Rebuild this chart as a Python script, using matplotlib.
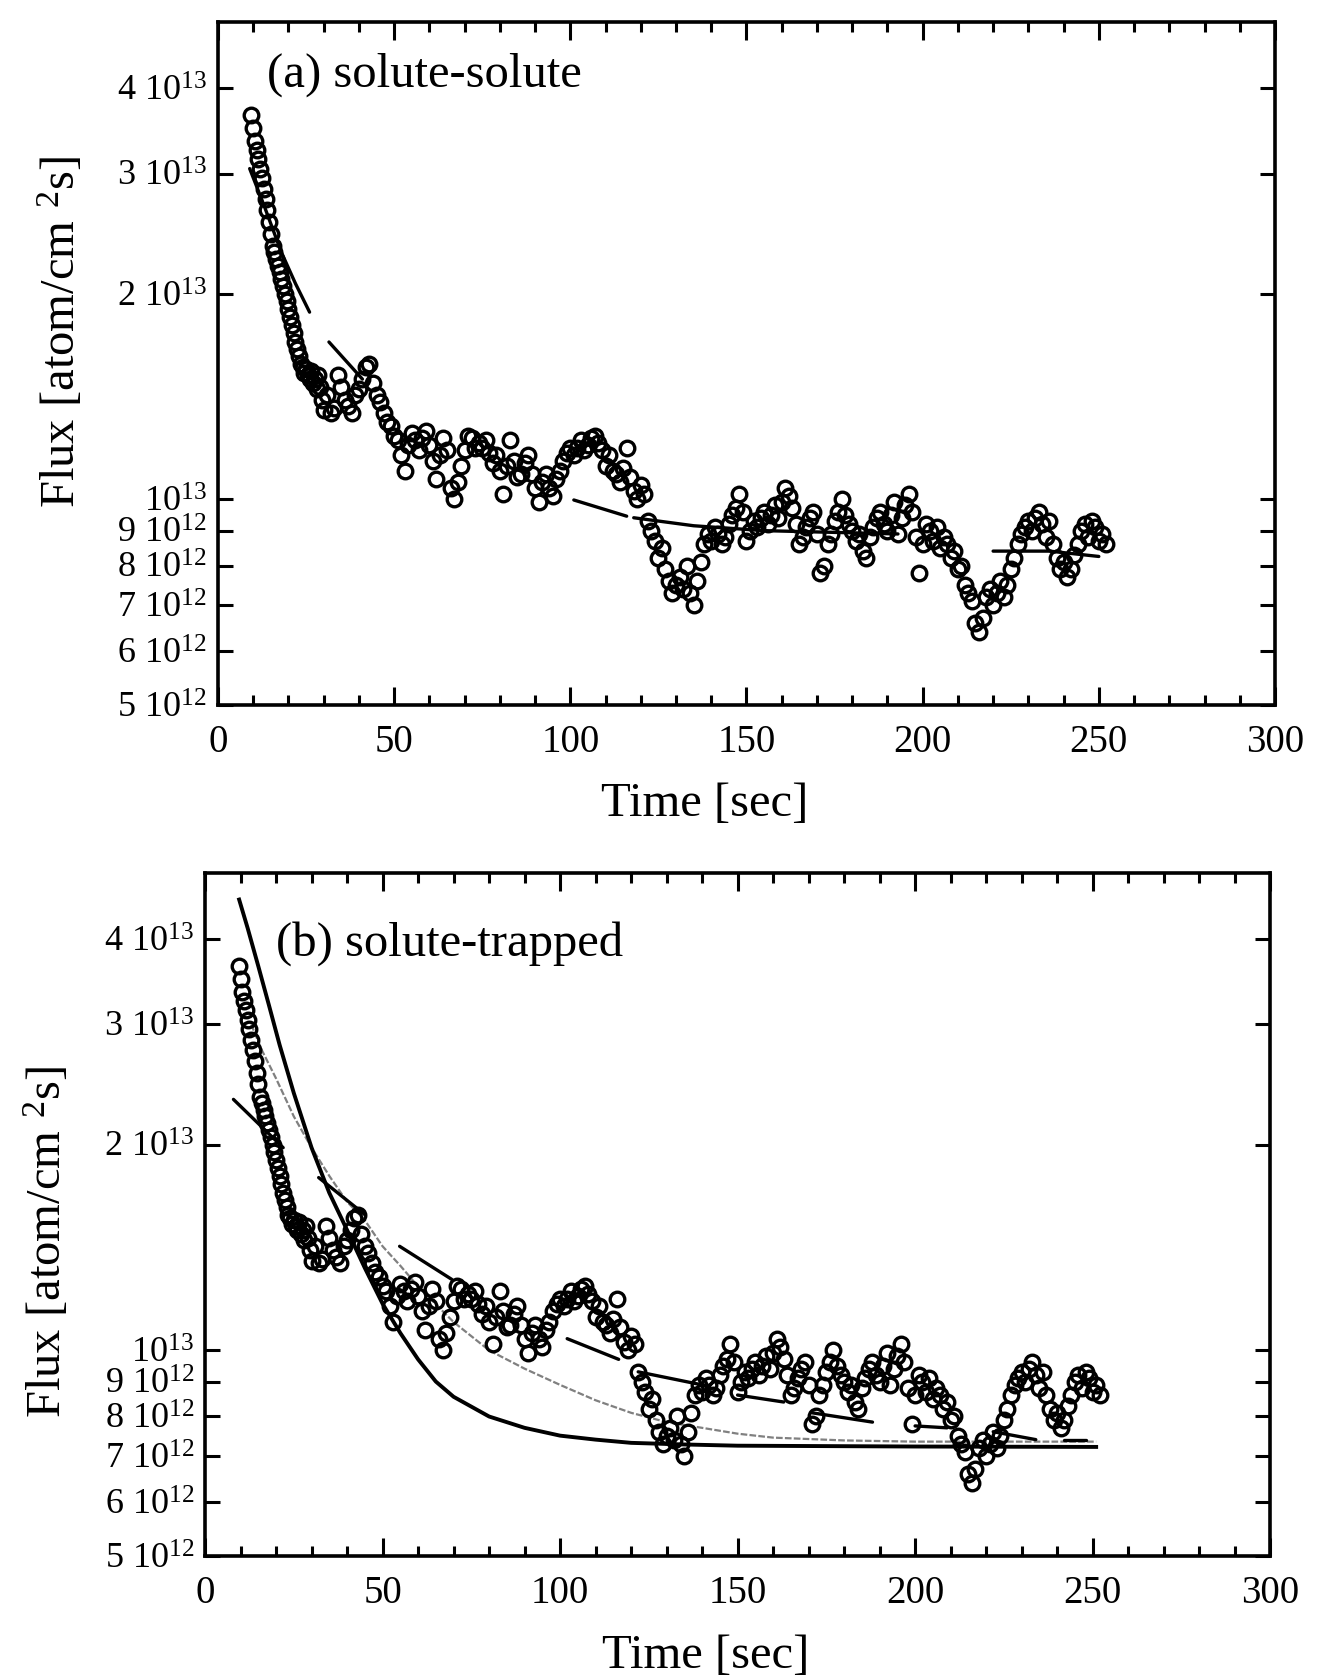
import matplotlib

matplotlib.use("Agg")
import matplotlib.pyplot as plt
import numpy as np
from matplotlib.ticker import FixedFormatter, FixedLocator, MultipleLocator, NullLocator

plt.rcParams["font.family"] = "Liberation Serif"
plt.rcParams["mathtext.fontset"] = "custom"
plt.rcParams["mathtext.rm"] = "Liberation Serif"
plt.rcParams["mathtext.it"] = "Liberation Serif:italic"

# measured desorption flux (same run shown in both panels), flux in 1e12 atom/cm^2 s
time_s = [
    9.5, 10, 10.5, 11, 11.5, 12, 12.5, 13, 13.5, 14,
    14.5, 15, 15.5, 16, 16.5, 17, 17.5, 18, 18.5, 19,
    19.5, 20, 20.5, 21, 21.5, 22, 22.5, 23, 23.5, 24,
    24.5, 25, 25.5, 26, 26.5, 27, 27.5, 28, 28.5, 29,
    29.5, 30,
    31, 32, 33, 34, 35, 36, 37, 38, 39, 40,
    41, 42, 43, 44, 45, 46, 47, 48, 49, 50,
    51, 52, 53, 54, 55, 56, 57, 58, 59, 60,
    61, 62, 63, 64, 65, 66, 67, 68, 69, 70,
    71, 72, 73, 74, 75, 76, 77, 78, 79, 80,
    81, 82, 83, 84, 85, 86, 87, 88, 89, 90,
    91, 92, 93, 94, 95, 96, 97, 98, 99, 100,
    101, 102, 103, 104, 105, 106, 107, 108, 109, 110,
    111, 112, 113, 114, 115, 116, 117, 118, 119, 120,
    121, 122, 123, 124, 125, 126, 127, 128, 129, 130,
    131, 132, 133, 134, 135, 136, 137, 138, 139, 140,
    141, 142, 143, 144, 145, 146, 147, 148, 149, 150,
    151, 152, 153, 154, 155, 156, 157, 158, 159, 160,
    161, 162, 163, 164, 165, 166, 167, 168, 169, 170,
    171, 172, 173, 174, 175, 176, 177, 178, 179, 180,
    181, 182, 183, 184, 185, 186, 187, 188, 189, 190,
    191, 192, 193, 194, 195, 196, 197, 198, 199, 200,
    201, 202, 203, 204, 205, 206, 207, 208, 209, 210,
    211, 212, 213, 214, 215, 216, 217, 218, 219, 220,
    221, 222, 223, 224, 225, 226, 227, 228, 229, 230,
    231, 232, 233, 234, 235, 236, 237, 238, 239, 240,
    241, 242, 243, 244, 245, 246, 247, 248, 249, 250,
    251, 252,
]
flux_e12 = [
    36.5, 35.0, 33.5, 32.5, 31.5, 30.5, 29.5, 28.5, 27.5, 26.5,
    25.5, 24.5, 23.5, 23.0, 22.5, 22.0, 21.5, 21.0, 20.5, 20.0,
    19.5, 19.0, 18.5, 18.0, 17.5, 17.0, 16.6, 16.2, 15.8, 15.6,
    15.3, 15.5, 15.2, 15.0, 15.4, 14.8, 15.0, 14.5, 15.2, 14.6,
    14.0, 13.5,
    14.2, 13.4, 13.6, 15.2, 14.6, 14.0, 13.7, 13.4, 14.2, 14.5,
    15.0, 15.6, 15.8, 14.8, 14.2, 13.9, 13.4, 13.0, 12.8, 12.4,
    12.2, 11.6, 11.0, 12.0, 12.5, 12.2, 11.8, 12.3, 12.6, 12.0,
    11.4, 10.7, 11.6, 12.3, 11.8, 10.4, 10.0, 10.6, 11.2, 11.8,
    12.4, 12.3, 11.9, 12.1, 11.9, 12.2, 11.7, 11.3, 11.6, 11.0,
    10.2, 11.2, 12.2, 11.4, 10.8, 10.9, 11.3, 11.6, 10.9, 10.4,
    9.9, 10.6, 10.9, 10.4, 10.1, 10.7, 11.0, 11.4, 11.7, 11.9,
    11.6, 11.9, 12.2, 11.8, 12.0, 12.3, 12.4, 12.1, 11.8, 11.2,
    11.6, 11.0, 10.9, 10.6, 11.1, 11.9, 10.8, 10.3, 10.0, 10.5,
    10.2, 9.3, 9.0, 8.7, 8.2, 8.5, 7.9, 7.6, 7.3, 7.5,
    7.7, 7.4, 8.0, 7.3, 7.0, 7.6, 8.1, 8.6, 8.9, 8.7,
    9.1, 8.9, 8.6, 8.8, 9.2, 9.5, 9.7, 10.2, 9.6, 8.7,
    9.0, 9.3, 9.1, 9.4, 9.6, 9.2, 9.5, 9.8, 9.4, 9.9,
    10.4, 10.1, 9.7, 9.2, 8.6, 8.8, 9.1, 9.4, 9.6, 8.9,
    7.8, 8.0, 8.6, 8.9, 9.3, 9.6, 10.0, 9.5, 9.2, 9.0,
    8.7, 8.9, 8.4, 8.2, 8.8, 9.1, 9.4, 9.6, 9.2, 9.0,
    9.5, 9.9, 8.9, 9.4, 9.8, 10.2, 9.6, 8.8, 7.8, 8.6,
    9.2, 9.0, 8.7, 9.1, 8.5, 8.8, 8.6, 8.2, 8.4, 7.9,
    8.0, 7.5, 7.3, 7.1, 6.6, 6.4, 6.7, 7.2, 7.4, 7.0,
    7.3, 7.6, 7.2, 7.5, 7.9, 8.2, 8.6, 8.9, 9.1, 9.3,
    9.0, 9.4, 9.6, 9.2, 8.8, 9.3, 8.6, 8.2, 7.9, 8.1,
    7.7, 7.9, 8.3, 8.6, 9.0, 9.2, 8.8, 9.3, 9.1, 8.7,
    8.9, 8.6,
]

# (a) solute-solute: piecewise fits, one list per fitted window
fit_a_time = [[9, 13, 18, 22, 26], [31.5, 41], [101, 116], [118, 135, 155, 193], [220, 236, 250]]
fit_a_flux = [[30.5, 27.0, 23.0, 20.7, 18.8], [17.0, 15.0], [9.98, 9.45], [9.4, 9.15, 9.0, 8.9], [8.4, 8.4, 8.25]]

# (b) solute-trapped: piecewise fits
fit_b_time = [[8, 22], [32, 45], [54.8, 69.5], [102, 116.5], [122, 140], [150, 163], [171, 188], [200, 209],
              [222, 234], [242, 248]]
fit_b_flux = [[23.3, 19.8], [17.9, 15.8], [14.2, 12.7], [10.4, 9.7], [9.3, 8.9], [8.6, 8.4], [8.1, 7.85],
              [7.75, 7.7], [7.6, 7.4], [7.4, 7.4]]

# (b) single-window model curves
model_fast_time = [9.6, 12, 15, 18, 21, 25, 30, 35, 40, 45, 50, 55, 60, 65, 70, 80, 90, 100, 110, 120, 135, 150, 200, 251]
model_fast_flux = [45.7, 41.5, 36.5, 32.0, 28.0, 23.8, 19.8, 17.0, 15.0, 13.2, 11.7, 10.6, 9.7, 9.0, 8.55, 8.0, 7.7,
                   7.5, 7.4, 7.32, 7.28, 7.25, 7.23, 7.22]
model_slow_time = [13, 16, 20, 25, 30, 35, 40, 45, 50, 55, 60, 70, 80, 90, 100, 110, 120, 130, 140, 150, 160, 180,
                   200, 220, 251]
model_slow_flux = [30.0, 27.5, 25.0, 22.0, 19.8, 18.0, 16.5, 15.5, 14.2, 13.3, 12.4, 11.0, 10.0, 9.4, 8.9, 8.45, 8.1,
                   7.85, 7.7, 7.55, 7.45, 7.38, 7.35, 7.35, 7.35]

flux_ticks = [5e12, 6e12, 7e12, 8e12, 9e12, 1e13, 2e13, 3e13, 4e13]
flux_tick_labels = [
    "5 10$^{12}$", "6 10$^{12}$", "7 10$^{12}$", "8 10$^{12}$", "9 10$^{12}$",
    "10$^{13}$", "2 10$^{13}$", "3 10$^{13}$", "4 10$^{13}$",
]
time_ticks = [0, 50, 100, 150, 200, 250, 300]


def style_axes(ax):
    ax.set_xlim(0, 300)
    ax.set_yscale("log")
    ax.set_ylim(5e12, 5e13)
    ax.xaxis.set_major_locator(FixedLocator(time_ticks))
    ax.xaxis.set_minor_locator(MultipleLocator(10))
    ax.yaxis.set_major_locator(FixedLocator(flux_ticks))
    ax.yaxis.set_major_formatter(FixedFormatter(flux_tick_labels))
    ax.yaxis.set_minor_locator(NullLocator())
    ax.tick_params(which="both", direction="in", top=True, right=True, width=2.2)
    ax.tick_params(axis="x", which="major", length=13, pad=14, labelsize=28)
    ax.tick_params(axis="x", which="minor", length=7)
    ax.tick_params(axis="y", which="major", length=11, pad=8, labelsize=26)
    for spine in ax.spines.values():
        spine.set_linewidth(2.6)
    ax.set_xlabel("Time [sec]", fontsize=35)
    ax.set_ylabel("Flux [atom/cm $^{2}$s]", fontsize=35)


def draw_fits(ax, times, fluxes, lw):
    for t, f in zip(times, fluxes):
        ax.plot(t, np.asarray(f) * 1e12, color="black", lw=lw, solid_capstyle="round", zorder=3)


def draw_data(ax):
    ax.plot(time_s, np.asarray(flux_e12) * 1e12, "o", ms=10.5, mfc="none", mec="black", mew=2.4, zorder=4)


def main():
    fig = plt.figure(figsize=(13.17, 16.77), dpi=100)
    ax_a = fig.add_axes([0.1655, 0.5796, 0.8026, 0.4073])
    ax_b = fig.add_axes([0.1557, 0.0722, 0.8087, 0.4073])

    draw_fits(ax_a, fit_a_time, fit_a_flux, 2.4)
    draw_data(ax_a)
    style_axes(ax_a)
    ax_a.text(0.046, 0.922, "(a) solute-solute", transform=ax_a.transAxes, fontsize=35, va="center")
    ax_a.xaxis.set_label_coords(0.46, -0.112)
    ax_a.yaxis.set_label_coords(-0.126, 0.546)

    ax_b.plot(model_slow_time, np.asarray(model_slow_flux) * 1e12, color="0.5", lw=1.6,
              linestyle=(0, (3, 1)), zorder=2)
    ax_b.plot(model_fast_time, np.asarray(model_fast_flux) * 1e12, color="black", lw=2.8, zorder=3)
    draw_fits(ax_b, fit_b_time, fit_b_flux, 2.4)
    draw_data(ax_b)
    style_axes(ax_b)
    ax_b.text(0.067, 0.896, "(b) solute-trapped", transform=ax_b.transAxes, fontsize=35, va="center")
    ax_b.xaxis.set_label_coords(0.47, -0.114)
    ax_b.yaxis.set_label_coords(-0.126, 0.46)

    fig.savefig("out.png", dpi=100)
    plt.close(fig)
    return 0


if __name__ == "__main__":
    raise SystemExit(main())
